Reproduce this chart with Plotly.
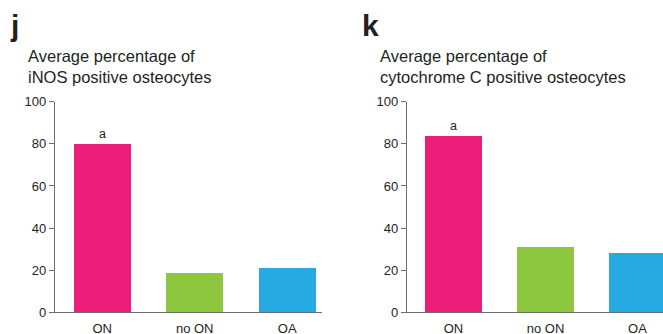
import plotly.graph_objects as go

categories = ["ON", "no ON", "OA"]
inos_values = [80.0, 18.6, 21.1]
cytc_values = [83.8, 31.0, 28.2]
bar_colors = ["#ED1E79", "#8DC63F", "#27AAE1"]
y_ticks = [0, 20, 40, 60, 80, 100]
sig_labels = ["a", "", ""]

W, H = 663, 334
FONT = "Liberation Sans, Arial, Helvetica, sans-serif"
AX = "#6D6E71"
TXT = "#231F20"

def px_x(p):
    return p / W

def px_y(p):
    return 1 - p / H

fig = go.Figure()
fig.add_trace(go.Bar(x=categories, y=inos_values, marker=dict(color=bar_colors, line=dict(width=0)),
                     width=0.62, xaxis="x", yaxis="y", showlegend=False,
                     text=sig_labels, textposition="outside", cliponaxis=False,
                     textfont=dict(size=12.5, color=TXT, family=FONT)))
fig.add_trace(go.Bar(x=categories, y=cytc_values, marker=dict(color=bar_colors, line=dict(width=0)),
                     width=0.62, xaxis="x2", yaxis="y2", showlegend=False,
                     text=sig_labels, textposition="outside", cliponaxis=False,
                     textfont=dict(size=12.5, color=TXT, family=FONT)))

y0, y100 = 312.3, 101.7
ydom = [px_y(y0), px_y(y100)]

xaxis_common = dict(showline=True, linecolor=AX, linewidth=1.3, ticks="", showgrid=False,
                    zeroline=False, tickfont=dict(size=13, color=TXT, family=FONT),
                    fixedrange=True, automargin=False, ticklabelstandoff=4)
yaxis_common = dict(showline=True, linecolor=AX, linewidth=1.3, ticks="outside", ticklen=5,
                    tickcolor=AX, tickwidth=1.3, tickvals=y_ticks, range=[0, 100],
                    showgrid=False, zeroline=False, automargin=False,
                    tickfont=dict(size=13, color=TXT, family=FONT), fixedrange=True)

fig.update_layout(
    width=W, height=H, margin=dict(l=0, r=0, t=0, b=0),
    paper_bgcolor="white", plot_bgcolor="white",
    bargap=0,
    xaxis=dict(domain=[px_x(55), px_x(322)], range=[-0.51, 2.376], anchor="y", **xaxis_common),
    yaxis=dict(domain=ydom, anchor="x", **yaxis_common),
    xaxis2=dict(domain=[px_x(407), 1.0], range=[-0.505, 2.277], anchor="y2", **xaxis_common),
    yaxis2=dict(domain=ydom, anchor="x2", **yaxis_common),
    font=dict(family=FONT, color=TXT),
)

annots = [
    dict(text="<b>j</b>", x=px_x(9), y=px_y(8), size=30),
    dict(text="<b>k</b>", x=px_x(361), y=px_y(8), size=30),
    dict(text="Average percentage of<br>iNOS positive osteocytes", x=px_x(27), y=px_y(46), size=16.5),
    dict(text="Average percentage of<br>cytochrome C positive osteocytes", x=px_x(379), y=px_y(46), size=16.5),
]
for a in annots:
    fig.add_annotation(text=a["text"], x=a["x"], y=a["y"], xref="paper", yref="paper",
                       xanchor="left", yanchor="top", showarrow=False, align="left",
                       font=dict(size=a["size"], color=TXT, family=FONT), borderpad=0)

fig.write_html("out.html")
